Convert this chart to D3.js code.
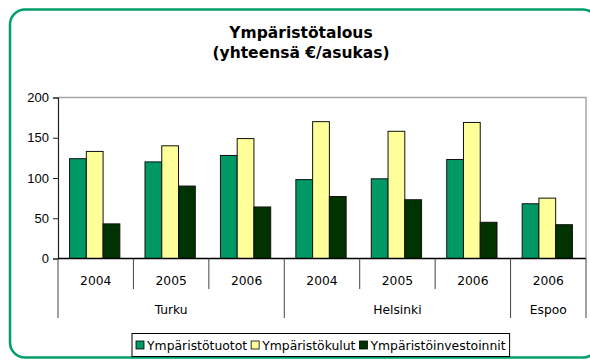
<!DOCTYPE html>
<html>
<head>
<meta charset="utf-8">
<script src="https://cdn.jsdelivr.net/npm/d3@7"></script>
<style>
  html, body { margin: 0; padding: 0; background: #fff; }
  svg { display: block; }
</style>
</head>
<body>
<svg id="chart" width="590" height="361"></svg>
<script>
// Environmental economy per inhabitant, by city and year
const years = ["2004", "2005", "2006", "2004", "2005", "2006", "2006"];
const cities = ["Turku", "Turku", "Turku", "Helsinki", "Helsinki", "Helsinki", "Espoo"];
const seriesNames = ["Ympäristötuotot", "Ympäristökulut", "Ympäristöinvestoinnit"];
const tuotot = [124, 120, 128, 98, 99, 123, 68];
const kulut = [133, 140, 149, 170, 158, 169, 75];
const investoinnit = [43, 90, 64, 77, 73, 45, 42];
const seriesColors = ["#009966", "#ffff99", "#003300"];
const yTicks = [0, 50, 100, 150, 200];
const titleLines = ["Ympäristötalous", "(yhteensä €/asukas)"];

const seriesValues = [tuotot, kulut, investoinnit];
const rows = years.map((yr, i) => ({
  i, year: yr, city: cities[i],
  values: seriesValues.map((s, k) => ({ key: seriesNames[k], value: s[i], color: seriesColors[k] }))
}));

const svg = d3.select("#chart");
const plot = { left: 58, right: 586, top: 97.5, bottom: 258.5 };
const labelFont = "'DejaVu Sans', Verdana, sans-serif";

// outer frame
svg.append("rect")
  .attr("x", 10).attr("y", 9.5)
  .attr("width", 588).attr("height", 348)
  .attr("rx", 15).attr("ry", 15)
  .attr("fill", "#fff")
  .attr("stroke", "#00a06a")
  .attr("stroke-width", 2.5);

// title
svg.append("text")
  .attr("x", 301).attr("y", 37.5)
  .attr("text-anchor", "middle")
  .style("font-family", labelFont)
  .style("font-weight", "bold")
  .style("font-size", "15.5px")
  .selectAll("tspan").data(titleLines).join("tspan")
  .attr("x", 301)
  .attr("dy", (d, i) => i === 0 ? 0 : 20.5)
  .text(d => d);

const x = d3.scaleBand()
  .domain(rows.map(d => d.i))
  .range([plot.left, plot.right])
  .paddingInner(0).paddingOuter(0);

const bw = x.bandwidth();
const gap = bw * 1.5 / 4.5; // gap width 150% of a bar
const x1 = d3.scaleBand()
  .domain(seriesNames)
  .range([gap / 2 - 1, bw - gap / 2 - 1])
  .padding(0);

const y = d3.scaleLinear().domain([0, 200]).range([plot.bottom, plot.top]);

// plot area border (top and right)
svg.append("path")
  .attr("d", `M${plot.left},${plot.top}H${plot.right}V${plot.bottom}`)
  .attr("fill", "none")
  .attr("stroke", "#a6a6a6")
  .attr("stroke-width", 1.5);

// bars
const groups = svg.append("g").selectAll("g").data(rows).join("g")
  .attr("transform", d => `translate(${x(d.i)},0)`);

groups.selectAll("rect").data(d => d.values).join("rect")
  .attr("x", d => x1(d.key))
  .attr("y", d => y(d.value))
  .attr("width", x1.bandwidth())
  .attr("height", d => y(0) - y(d.value))
  .attr("fill", d => d.color)
  .attr("stroke", "#111")
  .attr("stroke-width", 1);

// value axis
const yAxis = svg.append("g")
  .attr("transform", `translate(${plot.left},0)`)
  .call(d3.axisLeft(y).tickValues(yTicks).tickSize(5).tickPadding(4).tickFormat(d3.format("d")));
yAxis.select(".domain").attr("stroke", "#222").attr("stroke-width", 1.2);
yAxis.selectAll(".tick line").attr("stroke", "#222");
yAxis.selectAll("text")
  .style("font-family", "'Liberation Sans', Arial, sans-serif")
  .style("font-size", "13px")
  .attr("fill", "#000");

// category axis baseline
svg.append("line")
  .attr("x1", plot.left).attr("x2", plot.right)
  .attr("y1", y(0)).attr("y2", y(0))
  .attr("stroke", "#000").attr("stroke-width", 1.3);

// dividers between categories: short between years, long between cities
const boundaries = d3.range(rows.length + 1);
const cityStarts = boundaries.filter(b => b === 0 || b === rows.length || cities[b] !== cities[b - 1]);
svg.append("g").selectAll("line").data(boundaries).join("line")
  .attr("x1", b => b < rows.length ? x(b) : plot.right)
  .attr("x2", b => b < rows.length ? x(b) : plot.right)
  .attr("y1", y(0))
  .attr("y2", b => cityStarts.includes(b) ? 318 : 289)
  .attr("stroke", "#444")
  .attr("stroke-width", 1);

svg.append("g").selectAll("text").data(rows).join("text")
  .attr("x", d => x(d.i) + bw / 2)
  .attr("y", 285)
  .attr("text-anchor", "middle")
  .style("font-family", labelFont)
  .style("font-size", "12.3px")
  .text(d => d.year);

const cityGroups = d3.groups(rows, d => d.city).map(([name, rs]) => ({
  name, x0: x(rs[0].i), x1: x(rs[rs.length - 1].i) + bw
}));
svg.append("g").selectAll("text").data(cityGroups).join("text")
  .attr("x", d => (d.x0 + d.x1) / 2)
  .attr("y", 313.5)
  .attr("text-anchor", "middle")
  .style("font-family", labelFont)
  .style("font-size", "12.3px")
  .text(d => d.name);

// legend
const legend = svg.append("g");
const legendBox = legend.append("rect")
  .attr("x", 132).attr("y", 333.5)
  .attr("height", 23)
  .attr("fill", "#fff").attr("stroke", "#000").attr("stroke-width", 1);

const items = legend.selectAll("g").data(seriesNames).join("g");
let cx = 136;
items.each(function(name, k) {
  const g = d3.select(this);
  g.append("rect")
    .attr("x", cx).attr("y", 341)
    .attr("width", 8).attr("height", 8)
    .attr("fill", seriesColors[k])
    .attr("stroke", "#000").attr("stroke-width", 0.8);
  const t = g.append("text")
    .attr("x", cx + 11).attr("y", 349.5)
    .style("font-family", labelFont)
    .style("font-size", "12.4px")
    .text(name);
  cx += 11 + t.node().getComputedTextLength() + 4;
});
legendBox.attr("width", cx - 132);
</script>
</body>
</html>
